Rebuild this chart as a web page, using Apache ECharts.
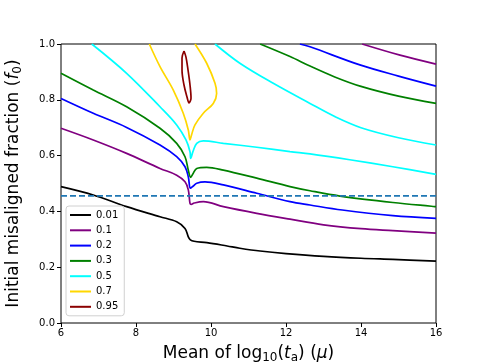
<!DOCTYPE html>
<html>
<head>
<meta charset="utf-8">
<script src="https://cdn.jsdelivr.net/npm/echarts@6/dist/echarts.min.js"></script>
<style>
  html, body { margin: 0; padding: 0; background: #fff; }
  #chart { width: 484px; height: 363px; }
</style>
</head>
<body>
<div id="chart"></div>
<script>
// levels shown in the legend
const levels = ['0.01', '0.1', '0.2', '0.3', '0.5', '0.7', '0.95']
const colors = ['#000000', '#800080', '#0000ff', '#008000', '#00ffff', '#ffd700', '#8b0000']

// [mean log10(ta), f0]
const f001 = [[6,0.489],[6.86,0.459],[7.75,0.417],[8.64,0.381],[9.085,0.363],[9.307,0.339],[9.395,0.309],[9.45,0.298],[9.55,0.293],[9.89,0.288],[10.43,0.276],[10.77,0.268],[11.31,0.258],[12,0.249],[13,0.239],[14,0.232],[14.85,0.228],[16,0.222]]
const f01 = [[6,0.698],[6.86,0.656],[7.75,0.608],[8.64,0.554],[9.085,0.53],[9.307,0.506],[9.395,0.477],[9.44,0.429],[9.47,0.425],[9.55,0.43],[9.795,0.435],[10.33,0.417],[11.22,0.393],[12.107,0.372],[13,0.352],[14,0.338],[14.85,0.331],[16,0.322]]
const f01Up = [[14.03,1.0],[15.04,0.96],[16,0.928]]
const f02 = [[6,0.805],[6.86,0.752],[7.75,0.701],[8.64,0.638],[9.085,0.596],[9.307,0.56],[9.395,0.524],[9.45,0.483],[9.52,0.49],[9.62,0.501],[9.84,0.506],[10.33,0.495],[11.22,0.465],[12.107,0.435],[12.64,0.423],[13.5,0.405],[14.85,0.385],[16,0.375]]
const f02Up = [[12.37,1.0],[12.64,0.99],[13.97,0.925],[15,0.885],[16,0.849]]
const f03 = [[6,0.895],[6.86,0.835],[7.75,0.775],[8.64,0.698],[9.085,0.644],[9.307,0.596],[9.395,0.548],[9.458,0.522],[9.52,0.535],[9.62,0.554],[9.885,0.558],[10.33,0.548],[11.22,0.519],[12.107,0.489],[12.64,0.474],[13.44,0.455],[14.85,0.432],[16,0.417]]
const f03Up = [[11.31,1.0],[12.107,0.955],[12.64,0.921],[13.3,0.882],[14,0.848],[15,0.813],[16,0.787]]
const f05 = [[6.82,1.0],[7.75,0.895],[8.64,0.775],[9.085,0.71],[9.333,0.656],[9.44,0.614],[9.458,0.59],[9.52,0.615],[9.62,0.644],[9.795,0.653],[10.33,0.644],[11.22,0.63],[12.107,0.614],[12.64,0.606],[13.7,0.585],[14.85,0.56],[16,0.533]]
const f05Up = [[10.107,1.0],[10.77,0.931],[11.66,0.859],[12.64,0.787],[13.3,0.74],[14,0.7],[15,0.664],[16,0.638]]
const f07 = [[8.355,1.0],[8.64,0.919],[8.995,0.835],[9.26,0.752],[9.395,0.692],[9.44,0.656],[9.485,0.676],[9.573,0.71],[9.795,0.752],[10.06,0.787],[10.15,0.823],[10.107,0.859],[9.885,0.931],[9.573,1.0]]
const f095 = [[9.28,0.975],[9.227,0.95],[9.227,0.907],[9.28,0.853],[9.36,0.81],[9.413,0.789],[9.467,0.806],[9.44,0.853],[9.387,0.907],[9.333,0.953],[9.28,0.975]]
const threshold = [[6,0.456],[16,0.456]]

const curves = [
  ['0.01', f001], ['0.1', f01], ['0.1', f01Up], ['0.2', f02], ['0.2', f02Up],
  ['0.3', f03], ['0.3', f03Up], ['0.5', f05], ['0.5', f05Up], ['0.7', f07], ['0.95', f095]
]

const chart = echarts.init(document.getElementById('chart'))

const series = curves.map(([name, data]) => ({
  name,
  type: 'line',
  data,
  symbol: 'none',
  smooth: 0.35,
  lineStyle: { width: 1.7, color: colors[levels.indexOf(name)] },
  itemStyle: { color: colors[levels.indexOf(name)] }
}))
// dashed reference line
series.push({
  type: 'line',
  data: threshold,
  symbol: 'none',
  silent: true,
  lineStyle: { width: 1.7, type: [6, 3], color: '#1f77b4' }
})

const labelRich = {
  sub: { fontFamily: 'DejaVu Sans', fontSize: 12, verticalAlign: 'bottom', padding: [8, 0, 0, 0] },
  it: { fontFamily: 'DejaVu Sans', fontSize: 17, fontStyle: 'italic' }
}

chart.setOption({
  animation: false,
  grid: {
    left: 61, right: 48, top: 44, bottom: 40,
    outerBoundsMode: 'none',
    show: true, borderColor: '#000', borderWidth: 1
  },
  xAxis: {
    type: 'value',
    min: 6, max: 16, interval: 2,
    name: 'Mean of log{sub|10}({it|t}{sub|a}) ({it|μ})',
    nameLocation: 'middle',
    nameGap: 21,
    nameTextStyle: { fontFamily: 'DejaVu Sans', fontSize: 17, color: '#000', rich: labelRich },
    axisLine: { show: false },
    axisTick: { inside: false, length: 4, lineStyle: { color: '#000' } },
    axisLabel: { fontFamily: 'DejaVu Sans', fontSize: 10, color: '#000', margin: 5 },
    splitLine: { show: false }
  },
  yAxis: {
    type: 'value',
    min: 0, max: 1, interval: 0.2,
    name: 'Initial misaligned fraction ({it|f}{sub|0})',
    nameLocation: 'middle',
    nameGap: 37,
    nameTextStyle: { fontFamily: 'DejaVu Sans', fontSize: 17, color: '#000', rich: labelRich },
    axisLine: { show: false },
    axisTick: { inside: false, length: 4, lineStyle: { color: '#000' } },
    axisLabel: {
      fontFamily: 'DejaVu Sans', fontSize: 10, color: '#000', margin: 6,
      formatter: v => v.toFixed(1)
    },
    splitLine: { show: false }
  },
  legend: {
    data: levels,
    orient: 'vertical',
    left: 66, top: 206,
    icon: 'rect',
    itemWidth: 21, itemHeight: 2, itemGap: 5.3,
    padding: [4, 6, 4, 4],
    backgroundColor: 'rgba(255,255,255,0.8)',
    borderColor: '#d0d0d0', borderWidth: 1, borderRadius: 3,
    textStyle: { fontFamily: 'DejaVu Sans', fontSize: 10, color: '#000' }
  },
  series
})
</script>
</body>
</html>
